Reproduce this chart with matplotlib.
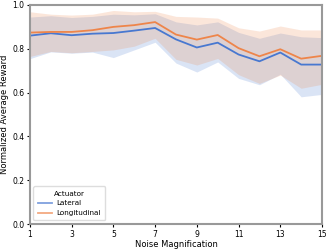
import matplotlib.pyplot as plt

noise = list(range(1, 16))

lateral_mean = [0.860, 0.871, 0.862, 0.869, 0.872, 0.883, 0.895, 0.843, 0.806, 0.828,
                0.774, 0.743, 0.783, 0.728, 0.728]
lateral_low = [0.755, 0.786, 0.780, 0.785, 0.760, 0.795, 0.830, 0.735, 0.694, 0.740,
               0.665, 0.636, 0.684, 0.581, 0.592]
lateral_high = [0.945, 0.951, 0.943, 0.948, 0.958, 0.955, 0.960, 0.923, 0.909, 0.923,
                0.875, 0.848, 0.872, 0.855, 0.851]

longitudinal_mean = [0.874, 0.877, 0.877, 0.885, 0.900, 0.908, 0.922, 0.865, 0.842, 0.863,
                     0.803, 0.766, 0.798, 0.755, 0.768]
longitudinal_low = [0.765, 0.788, 0.782, 0.788, 0.795, 0.812, 0.848, 0.752, 0.726, 0.756,
                    0.682, 0.642, 0.680, 0.620, 0.638]
longitudinal_high = [0.969, 0.958, 0.954, 0.958, 0.975, 0.969, 0.971, 0.948, 0.945, 0.940,
                     0.896, 0.881, 0.904, 0.886, 0.886]

xticks = [1, 3, 5, 7, 9, 11, 13, 15]

blue = '#4878d0'
orange = '#ee854a'

fig = plt.figure(figsize=(3.32, 2.49), dpi=100)
ax = fig.add_axes([0.09, 0.10, 0.88, 0.88])

# --- bands then mean lines
ax.fill_between(noise, lateral_low, lateral_high, color=blue, alpha=0.2, lw=0)
ax.fill_between(noise, longitudinal_low, longitudinal_high, color=orange, alpha=0.2, lw=0)
ax.plot(noise, lateral_mean, color=blue, lw=1.3, label='Lateral')
ax.plot(noise, longitudinal_mean, color=orange, lw=1.3, label='Longitudinal')

ax.set_xlim(1, 15)
ax.set_ylim(0, 1)
ax.set_xticks(xticks)
ax.set_yticks([0.0, 0.2, 0.4, 0.6, 0.8, 1.0])
ax.tick_params(labelsize=5.5, length=2.5, width=0.8, pad=1.5)
ax.set_xlabel('Noise Magnification', fontsize=6, labelpad=1)
ax.set_ylabel('Normalized Average Reward', fontsize=6, labelpad=2)
for s in ax.spines.values():
    s.set_color('#999999')
    s.set_linewidth(1.5)

leg = ax.legend(title='Actuator', loc='lower left', fontsize=5.2, title_fontsize=5.2,
                handlelength=2.0, handletextpad=0.6, borderaxespad=0.5, borderpad=0.6,
                labelspacing=0.5, framealpha=1, edgecolor='#dddddd')
for h in leg.get_lines():
    h.set_alpha(0.7)

plt.savefig('out.png', dpi=100)
